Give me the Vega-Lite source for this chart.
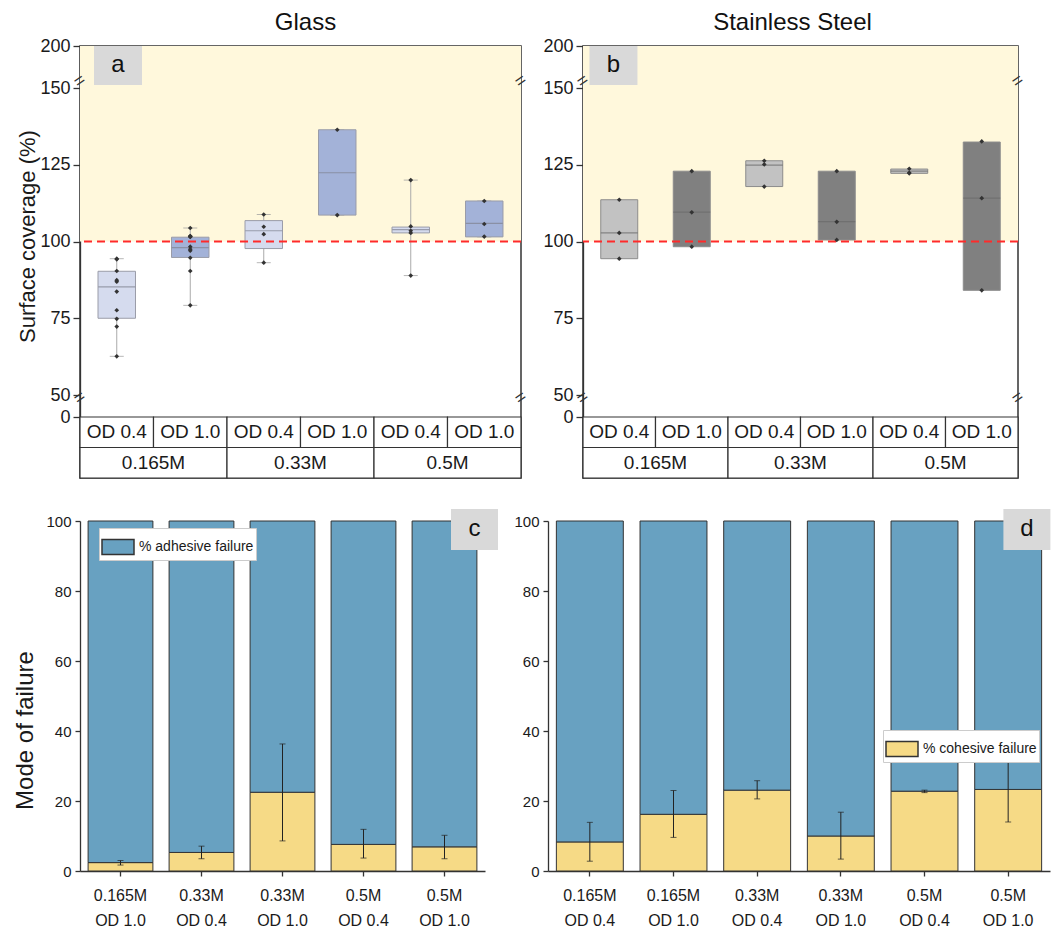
{
  "$schema": "https://vega.github.io/schema/vega-lite/v6.json",
  "padding": {"left": 13, "top": 10, "right": 0, "bottom": 0},
  "spacing": 28,
  "config": {
    "font": "Liberation Sans",
    "view": {"stroke": null},
    "axis": {"grid": false, "domainColor": "#333", "tickColor": "#333", "labelColor": "#1a1a1a", "titleColor": "#1a1a1a", "titleFontWeight": "normal", "domainWidth": 1.3, "tickWidth": 1.3},
    "legend": {"titleFontWeight": "normal"},
    "title": {"fontWeight": "normal", "color": "#111"}
  },
  "datasets": {
    "boxA": [
      {"key": "0.165M OD 0.4", "od": "OD 0.4", "lower": 62.6, "q1": 75.0, "median": 85.2, "q3": 90.3, "upper": 94.4},
      {"key": "0.165M OD 1.0", "od": "OD 1.0", "lower": 79.2, "q1": 94.8, "median": 98.0, "q3": 101.4, "upper": 104.4},
      {"key": "0.33M OD 0.4", "od": "OD 0.4", "lower": 93.1, "q1": 97.7, "median": 103.5, "q3": 106.8, "upper": 108.8},
      {"key": "0.33M OD 1.0", "od": "OD 1.0", "lower": 108.6, "q1": 108.6, "median": 122.4, "q3": 136.4, "upper": 136.4},
      {"key": "0.5M OD 0.4", "od": "OD 0.4", "lower": 88.9, "q1": 102.8, "median": 103.9, "q3": 104.7, "upper": 120.0},
      {"key": "0.5M OD 1.0", "od": "OD 1.0", "lower": 101.5, "q1": 101.5, "median": 105.9, "q3": 113.2, "upper": 113.2}
    ],
    "ptsA": [
      {"key": "0.165M OD 0.4", "v": 94.4}, {"key": "0.165M OD 0.4", "v": 94.2}, {"key": "0.165M OD 0.4", "v": 90.4}, {"key": "0.165M OD 0.4", "v": 87.4}, {"key": "0.165M OD 0.4", "v": 86.9},
      {"key": "0.165M OD 0.4", "v": 83.7}, {"key": "0.165M OD 0.4", "v": 77.6}, {"key": "0.165M OD 0.4", "v": 74.8}, {"key": "0.165M OD 0.4", "v": 72.3}, {"key": "0.165M OD 0.4", "v": 62.6},
      {"key": "0.165M OD 1.0", "v": 104.4}, {"key": "0.165M OD 1.0", "v": 101.8}, {"key": "0.165M OD 1.0", "v": 101.7}, {"key": "0.165M OD 1.0", "v": 101.6}, {"key": "0.165M OD 1.0", "v": 101.5},
      {"key": "0.165M OD 1.0", "v": 98.3}, {"key": "0.165M OD 1.0", "v": 97.5}, {"key": "0.165M OD 1.0", "v": 97.0}, {"key": "0.165M OD 1.0", "v": 94.7}, {"key": "0.165M OD 1.0", "v": 90.4}, {"key": "0.165M OD 1.0", "v": 79.2},
      {"key": "0.33M OD 0.4", "v": 108.8}, {"key": "0.33M OD 0.4", "v": 104.8}, {"key": "0.33M OD 0.4", "v": 102.4}, {"key": "0.33M OD 0.4", "v": 93.1},
      {"key": "0.33M OD 1.0", "v": 136.4}, {"key": "0.33M OD 1.0", "v": 108.6},
      {"key": "0.5M OD 0.4", "v": 120.0}, {"key": "0.5M OD 0.4", "v": 104.9}, {"key": "0.5M OD 0.4", "v": 103.5}, {"key": "0.5M OD 0.4", "v": 102.8}, {"key": "0.5M OD 0.4", "v": 88.9},
      {"key": "0.5M OD 1.0", "v": 113.2}, {"key": "0.5M OD 1.0", "v": 105.7}, {"key": "0.5M OD 1.0", "v": 101.6}
    ],
    "boxB": [
      {"key": "0.165M OD 0.4", "od": "OD 0.4", "lower": 94.4, "q1": 94.4, "median": 102.8, "q3": 113.6, "upper": 113.6},
      {"key": "0.165M OD 1.0", "od": "OD 1.0", "lower": 98.3, "q1": 98.3, "median": 109.6, "q3": 122.9, "upper": 122.9},
      {"key": "0.33M OD 0.4", "od": "OD 0.4", "lower": 117.9, "q1": 117.9, "median": 124.9, "q3": 126.3, "upper": 126.3},
      {"key": "0.33M OD 1.0", "od": "OD 1.0", "lower": 100.5, "q1": 100.5, "median": 106.5, "q3": 122.9, "upper": 122.9},
      {"key": "0.5M OD 0.4", "od": "OD 0.4", "lower": 122.2, "q1": 122.2, "median": 122.9, "q3": 123.6, "upper": 123.6},
      {"key": "0.5M OD 1.0", "od": "OD 1.0", "lower": 84.1, "q1": 84.1, "median": 114.1, "q3": 132.4, "upper": 132.4}
    ],
    "ptsB": [
      {"key": "0.165M OD 0.4", "v": 113.6}, {"key": "0.165M OD 0.4", "v": 102.8}, {"key": "0.165M OD 0.4", "v": 94.4},
      {"key": "0.165M OD 1.0", "v": 122.9}, {"key": "0.165M OD 1.0", "v": 109.5}, {"key": "0.165M OD 1.0", "v": 98.3},
      {"key": "0.33M OD 0.4", "v": 126.3}, {"key": "0.33M OD 0.4", "v": 125.1}, {"key": "0.33M OD 0.4", "v": 117.9},
      {"key": "0.33M OD 1.0", "v": 122.9}, {"key": "0.33M OD 1.0", "v": 106.4}, {"key": "0.33M OD 1.0", "v": 100.5},
      {"key": "0.5M OD 0.4", "v": 123.7}, {"key": "0.5M OD 0.4", "v": 122.4}, {"key": "0.5M OD 0.4", "v": 122.2},
      {"key": "0.5M OD 1.0", "v": 132.6}, {"key": "0.5M OD 1.0", "v": 114.1}, {"key": "0.5M OD 1.0", "v": 84.1}
    ],
    "tableOD": [
      {"key": "0.165M OD 0.4", "od": "OD 0.4"}, {"key": "0.165M OD 1.0", "od": "OD 1.0"},
      {"key": "0.33M OD 0.4", "od": "OD 0.4"}, {"key": "0.33M OD 1.0", "od": "OD 1.0"},
      {"key": "0.5M OD 0.4", "od": "OD 0.4"}, {"key": "0.5M OD 1.0", "od": "OD 1.0"}
    ],
    "tableConc": [{"conc": "0.165M"}, {"conc": "0.33M"}, {"conc": "0.5M"}],
    "barsC": [
      {"key": "0.165M|OD 1.0", "mode": "% cohesive failure", "pct": 2.4}, {"key": "0.165M|OD 1.0", "mode": "% adhesive failure", "pct": 97.6},
      {"key": "0.33M|OD 0.4", "mode": "% cohesive failure", "pct": 5.3}, {"key": "0.33M|OD 0.4", "mode": "% adhesive failure", "pct": 94.7},
      {"key": "0.33M|OD 1.0", "mode": "% cohesive failure", "pct": 22.5}, {"key": "0.33M|OD 1.0", "mode": "% adhesive failure", "pct": 77.5},
      {"key": "0.5M|OD 0.4", "mode": "% cohesive failure", "pct": 7.6}, {"key": "0.5M|OD 0.4", "mode": "% adhesive failure", "pct": 92.4},
      {"key": "0.5M|OD 1.0", "mode": "% cohesive failure", "pct": 6.9}, {"key": "0.5M|OD 1.0", "mode": "% adhesive failure", "pct": 93.1}
    ],
    "errC": [
      {"key": "0.165M|OD 1.0", "lo": 1.7, "hi": 3.0},
      {"key": "0.33M|OD 0.4", "lo": 3.5, "hi": 7.1},
      {"key": "0.33M|OD 1.0", "lo": 8.6, "hi": 36.3},
      {"key": "0.5M|OD 0.4", "lo": 3.7, "hi": 11.9},
      {"key": "0.5M|OD 1.0", "lo": 3.5, "hi": 10.2}
    ],
    "barsD": [
      {"key": "0.165M|OD 0.4", "mode": "% cohesive failure", "pct": 8.3}, {"key": "0.165M|OD 0.4", "mode": "% adhesive failure", "pct": 91.7},
      {"key": "0.165M|OD 1.0", "mode": "% cohesive failure", "pct": 16.2}, {"key": "0.165M|OD 1.0", "mode": "% adhesive failure", "pct": 83.8},
      {"key": "0.33M|OD 0.4", "mode": "% cohesive failure", "pct": 23.1}, {"key": "0.33M|OD 0.4", "mode": "% adhesive failure", "pct": 76.9},
      {"key": "0.33M|OD 1.0", "mode": "% cohesive failure", "pct": 10.0}, {"key": "0.33M|OD 1.0", "mode": "% adhesive failure", "pct": 90.0},
      {"key": "0.5M|OD 0.4", "mode": "% cohesive failure", "pct": 22.8}, {"key": "0.5M|OD 0.4", "mode": "% adhesive failure", "pct": 77.2},
      {"key": "0.5M|OD 1.0", "mode": "% cohesive failure", "pct": 23.3}, {"key": "0.5M|OD 1.0", "mode": "% adhesive failure", "pct": 76.7}
    ],
    "errD": [
      {"key": "0.165M|OD 0.4", "lo": 2.8, "hi": 13.9},
      {"key": "0.165M|OD 1.0", "lo": 9.6, "hi": 23.0},
      {"key": "0.33M|OD 0.4", "lo": 20.6, "hi": 25.8},
      {"key": "0.33M|OD 1.0", "lo": 3.4, "hi": 16.8},
      {"key": "0.5M|OD 0.4", "lo": 22.4, "hi": 23.1},
      {"key": "0.5M|OD 1.0", "lo": 14.0, "hi": 32.6}
    ]
  },
  "vconcat": [
    {
      "spacing": 10,
      "resolve": {"scale": {"color": "independent"}},
      "hconcat": [
        {
          "width": 441, "height": 432,
          "view": {"stroke": "#333", "strokeWidth": 1.5},
          "title": {"text": "Glass", "fontSize": 24, "offset": -22, "baseline": "bottom", "dx": 5},
          "resolve": {"scale": {"x": "independent"}},
          "layer": [
            {"layer": [
              {"data": {"values": [{}]}, "mark": {"type": "rect", "color": "#fff8dc"},
               "encoding": {
                 "y": {"datum": 100, "type": "quantitative",
                   "scale": {"domain": [-2, 0, 50, 150, 200], "range": [432, 371, 349, 42, 0], "zero": false, "nice": false},
                   "axis": {"values": [0, 50, 75, 100, 125, 150, 200], "title": "Surface coverage (%)", "titleFontSize": 22, "labelFontSize": 18, "tickSize": 7, "labelPadding": 3, "titlePadding": 0, "titleY": 190}},
                 "y2": {"datum": 200}}},
              {"data": {"name": "boxA"}, "mark": {"type": "rule", "color": "#aaaaaa", "strokeWidth": 1},
               "encoding": {
                 "x": {"field": "key", "type": "nominal", "axis": null, "scale": {"domain": ["0.165M OD 0.4", "0.165M OD 1.0", "0.33M OD 0.4", "0.33M OD 1.0", "0.5M OD 0.4", "0.5M OD 1.0"], "paddingInner": 0, "paddingOuter": 0}},
                 "y": {"field": "lower", "type": "quantitative"}, "y2": {"field": "upper"}}},
              {"data": {"name": "boxA"}, "mark": {"type": "tick", "size": 14, "thickness": 1, "color": "#999999"},
               "encoding": {"x": {"field": "key", "type": "nominal"}, "y": {"field": "lower", "type": "quantitative"}}},
              {"data": {"name": "boxA"}, "mark": {"type": "tick", "size": 14, "thickness": 1, "color": "#999999"},
               "encoding": {"x": {"field": "key", "type": "nominal"}, "y": {"field": "upper", "type": "quantitative"}}},
              {"data": {"name": "boxA"}, "mark": {"type": "bar", "width": {"band": 0.51}, "stroke": "#9a9ca8", "strokeWidth": 1},
               "encoding": {"x": {"field": "key", "type": "nominal"}, "y": {"field": "q1", "type": "quantitative"}, "y2": {"field": "q3"},
                 "color": {"field": "od", "type": "nominal", "legend": null, "scale": {"domain": ["OD 0.4", "OD 1.0"], "range": ["#d5dbee", "#a3b2d8"]}}}},
              {"data": {"name": "boxA"}, "mark": {"type": "tick", "size": 37, "thickness": 1.2, "color": "#7f8290"},
               "encoding": {"x": {"field": "key", "type": "nominal"}, "y": {"field": "median", "type": "quantitative"}}},
              {"data": {"values": [{}]}, "mark": {"type": "rule", "color": "#ff2a2a", "strokeDash": [8, 5], "strokeWidth": 2},
               "encoding": {"y": {"datum": 100, "type": "quantitative"}}},
              {"data": {"name": "ptsA"}, "mark": {"type": "point", "shape": "diamond", "filled": true, "size": 22, "color": "#333333", "opacity": 1},
               "encoding": {"x": {"field": "key", "type": "nominal"}, "y": {"field": "v", "type": "quantitative"}}},
              {"data": {"name": "tableOD"}, "mark": {"type": "rect", "fill": "white", "stroke": "#333", "strokeWidth": 1.2},
               "encoding": {"x": {"field": "key", "type": "nominal"}, "y": {"datum": -1, "type": "quantitative"}, "y2": {"datum": 0}}},
              {"data": {"name": "tableOD"}, "mark": {"type": "text", "fontSize": 19, "color": "#1a1a1a"},
               "encoding": {"x": {"field": "key", "type": "nominal"}, "y": {"datum": -0.5, "type": "quantitative"}, "text": {"field": "od"}}},
              {"data": {"values": [{}]}, "mark": {"type": "point", "shape": "M-1,-0.8125H1V0.8125H-1Z", "size": 2304, "filled": true, "color": "#d9d9d9", "opacity": 1, "strokeWidth": 0},
               "encoding": {"x": {"datum": "0.165M OD 0.4", "type": "nominal", "bandPosition": 0.517}, "y": {"datum": 176.8, "type": "quantitative"}}},
              {"data": {"values": [{}]}, "mark": {"type": "text", "text": "a", "fontSize": 24, "color": "#111"},
               "encoding": {"x": {"datum": "0.165M OD 0.4", "type": "nominal", "bandPosition": 0.517}, "y": {"datum": 176.8, "type": "quantitative"}}},
              {"data": {"values": [{}]}, "mark": {"type": "text", "text": "=", "fontSize": 18, "angle": -35, "color": "#333"},
               "encoding": {"x": {"datum": "0.165M OD 0.4", "type": "nominal", "bandPosition": 0}, "y": {"datum": 158, "type": "quantitative"}}},
              {"data": {"values": [{}]}, "mark": {"type": "text", "text": "=", "fontSize": 18, "angle": -35, "color": "#333"},
               "encoding": {"x": {"datum": "0.165M OD 0.4", "type": "nominal", "bandPosition": 0}, "y": {"datum": 43, "type": "quantitative"}}},
              {"data": {"values": [{}]}, "mark": {"type": "text", "text": "=", "fontSize": 18, "angle": -35, "color": "#333"},
               "encoding": {"x": {"datum": "0.5M OD 1.0", "type": "nominal", "bandPosition": 1}, "y": {"datum": 158, "type": "quantitative"}}},
              {"data": {"values": [{}]}, "mark": {"type": "text", "text": "=", "fontSize": 18, "angle": -35, "color": "#333"},
               "encoding": {"x": {"datum": "0.5M OD 1.0", "type": "nominal", "bandPosition": 1}, "y": {"datum": 43, "type": "quantitative"}}}
            ]},
            {"layer": [
              {"data": {"name": "tableConc"}, "mark": {"type": "rect", "fill": "white", "stroke": "#333", "strokeWidth": 1.2},
               "encoding": {"x": {"field": "conc", "type": "nominal", "axis": null, "scale": {"domain": ["0.165M", "0.33M", "0.5M"], "paddingInner": 0, "paddingOuter": 0}},
                 "y": {"datum": -2, "type": "quantitative"}, "y2": {"datum": -1}}},
              {"data": {"name": "tableConc"}, "mark": {"type": "text", "fontSize": 19, "color": "#1a1a1a"},
               "encoding": {"x": {"field": "conc", "type": "nominal", "axis": null}, "y": {"datum": -1.5, "type": "quantitative"}, "text": {"field": "conc"}}}
            ]}
          ]
        },
        {
          "width": 435, "height": 432,
          "view": {"stroke": "#333", "strokeWidth": 1.5},
          "title": {"text": "Stainless Steel", "fontSize": 24, "offset": -22, "baseline": "bottom", "dx": -8},
          "resolve": {"scale": {"x": "independent"}},
          "layer": [
            {"layer": [
              {"data": {"values": [{}]}, "mark": {"type": "rect", "color": "#fff8dc"},
               "encoding": {
                 "y": {"datum": 100, "type": "quantitative",
                   "scale": {"domain": [-2, 0, 50, 150, 200], "range": [432, 371, 349, 42, 0], "zero": false, "nice": false},
                   "axis": {"values": [0, 50, 75, 100, 125, 150, 200], "title": null, "labelFontSize": 18, "tickSize": 7, "labelPadding": 3}},
                 "y2": {"datum": 200}}},
              {"data": {"name": "boxB"}, "mark": {"type": "rule", "color": "#999999", "strokeWidth": 1},
               "encoding": {
                 "x": {"field": "key", "type": "nominal", "axis": null, "scale": {"domain": ["0.165M OD 0.4", "0.165M OD 1.0", "0.33M OD 0.4", "0.33M OD 1.0", "0.5M OD 0.4", "0.5M OD 1.0"], "paddingInner": 0, "paddingOuter": 0}},
                 "y": {"field": "lower", "type": "quantitative"}, "y2": {"field": "upper"}}},
              {"data": {"name": "boxB"}, "mark": {"type": "bar", "width": {"band": 0.51}, "stroke": "#8c8c8c", "strokeWidth": 1},
               "encoding": {"x": {"field": "key", "type": "nominal"}, "y": {"field": "q1", "type": "quantitative"}, "y2": {"field": "q3"},
                 "color": {"field": "od", "type": "nominal", "legend": null, "scale": {"domain": ["OD 0.4", "OD 1.0"], "range": ["#c2c2c2", "#808080"]}}}},
              {"data": {"name": "boxB"}, "mark": {"type": "tick", "size": 37, "thickness": 1.2, "color": "#6a6a6a"},
               "encoding": {"x": {"field": "key", "type": "nominal"}, "y": {"field": "median", "type": "quantitative"}}},
              {"data": {"values": [{}]}, "mark": {"type": "rule", "color": "#ff2a2a", "strokeDash": [8, 5], "strokeWidth": 2},
               "encoding": {"y": {"datum": 100, "type": "quantitative"}}},
              {"data": {"name": "ptsB"}, "mark": {"type": "point", "shape": "diamond", "filled": true, "size": 22, "color": "#333333", "opacity": 1},
               "encoding": {"x": {"field": "key", "type": "nominal"}, "y": {"field": "v", "type": "quantitative"}}},
              {"data": {"name": "tableOD"}, "mark": {"type": "rect", "fill": "white", "stroke": "#333", "strokeWidth": 1.2},
               "encoding": {"x": {"field": "key", "type": "nominal"}, "y": {"datum": -1, "type": "quantitative"}, "y2": {"datum": 0}}},
              {"data": {"name": "tableOD"}, "mark": {"type": "text", "fontSize": 19, "color": "#1a1a1a"},
               "encoding": {"x": {"field": "key", "type": "nominal"}, "y": {"datum": -0.5, "type": "quantitative"}, "text": {"field": "od"}}},
              {"data": {"values": [{}]}, "mark": {"type": "point", "shape": "M-1,-0.8125H1V0.8125H-1Z", "size": 2304, "filled": true, "color": "#d9d9d9", "opacity": 1, "strokeWidth": 0},
               "encoding": {"x": {"datum": "0.165M OD 0.4", "type": "nominal", "bandPosition": 0.42}, "y": {"datum": 176.8, "type": "quantitative"}}},
              {"data": {"values": [{}]}, "mark": {"type": "text", "text": "b", "fontSize": 24, "color": "#111"},
               "encoding": {"x": {"datum": "0.165M OD 0.4", "type": "nominal", "bandPosition": 0.42}, "y": {"datum": 176.8, "type": "quantitative"}}},
              {"data": {"values": [{}]}, "mark": {"type": "text", "text": "=", "fontSize": 18, "angle": -35, "color": "#333"},
               "encoding": {"x": {"datum": "0.165M OD 0.4", "type": "nominal", "bandPosition": 0}, "y": {"datum": 158, "type": "quantitative"}}},
              {"data": {"values": [{}]}, "mark": {"type": "text", "text": "=", "fontSize": 18, "angle": -35, "color": "#333"},
               "encoding": {"x": {"datum": "0.165M OD 0.4", "type": "nominal", "bandPosition": 0}, "y": {"datum": 43, "type": "quantitative"}}},
              {"data": {"values": [{}]}, "mark": {"type": "text", "text": "=", "fontSize": 18, "angle": -35, "color": "#333"},
               "encoding": {"x": {"datum": "0.5M OD 1.0", "type": "nominal", "bandPosition": 1}, "y": {"datum": 158, "type": "quantitative"}}},
              {"data": {"values": [{}]}, "mark": {"type": "text", "text": "=", "fontSize": 18, "angle": -35, "color": "#333"},
               "encoding": {"x": {"datum": "0.5M OD 1.0", "type": "nominal", "bandPosition": 1}, "y": {"datum": 43, "type": "quantitative"}}}
            ]},
            {"layer": [
              {"data": {"name": "tableConc"}, "mark": {"type": "rect", "fill": "white", "stroke": "#333", "strokeWidth": 1.2},
               "encoding": {"x": {"field": "conc", "type": "nominal", "axis": null, "scale": {"domain": ["0.165M", "0.33M", "0.5M"], "paddingInner": 0, "paddingOuter": 0}},
                 "y": {"datum": -2, "type": "quantitative"}, "y2": {"datum": -1}}},
              {"data": {"name": "tableConc"}, "mark": {"type": "text", "fontSize": 19, "color": "#1a1a1a"},
               "encoding": {"x": {"field": "conc", "type": "nominal", "axis": null}, "y": {"datum": -1.5, "type": "quantitative"}, "text": {"field": "conc"}}}
            ]}
          ]
        }
      ]
    },
    {
      "spacing": 14,
      "resolve": {"scale": {"color": "independent"}, "legend": {"color": "independent"}},
      "hconcat": [
        {
          "width": 405, "height": 350,
          "layer": [
            {"data": {"name": "barsC"}, "mark": {"type": "bar", "stroke": "#333", "strokeWidth": 1},
             "encoding": {
               "x": {"field": "key", "type": "nominal", "title": null,
                 "scale": {"domain": ["0.165M|OD 1.0", "0.33M|OD 0.4", "0.33M|OD 1.0", "0.5M|OD 0.4", "0.5M|OD 1.0"], "paddingInner": 0.2, "paddingOuter": 0.1},
                 "axis": {"labelAngle": 0, "labelExpr": "split(datum.label, '|')", "labelFont": "Liberation Sans", "labelFontSize": 16, "labelLineHeight": 25, "tickSize": 5, "labelPadding": 11}},
               "y": {"field": "pct", "type": "quantitative", "stack": "zero",
                 "scale": {"domain": [0, 100], "nice": false},
                 "axis": {"values": [0, 20, 40, 60, 80, 100], "title": "Mode of failure", "titleFontSize": 24, "labelFontSize": 15, "tickSize": 5, "labelPadding": 4, "titlePadding": 8, "titleY": 209}},
               "color": {"field": "mode", "type": "nominal",
                 "scale": {"domain": ["% adhesive failure", "% cohesive failure"], "range": ["#68a1c1", "#f6da86"]},
                 "legend": {"values": ["% adhesive failure"], "title": null, "orient": "none", "legendX": 19, "legendY": 7, "symbolType": "M-1,-0.47H1V0.47H-1Z", "symbolSize": 1024, "symbolStrokeColor": "#333", "symbolStrokeWidth": 1.5, "symbolOpacity": 1, "labelFontSize": 14, "labelColor": "#1a1a1a", "labelOffset": 4, "fillColor": "white", "strokeColor": "#cccccc", "padding": 2}},
               "order": {"field": "mode", "sort": "descending"}}},
            {"data": {"name": "errC"}, "mark": {"type": "rule", "color": "#222", "strokeWidth": 1},
             "encoding": {"x": {"field": "key", "type": "nominal"}, "y": {"field": "lo", "type": "quantitative"}, "y2": {"field": "hi"}}},
            {"data": {"name": "errC"}, "mark": {"type": "tick", "size": 6, "thickness": 1, "color": "#222"},
             "encoding": {"x": {"field": "key", "type": "nominal"}, "y": {"field": "lo", "type": "quantitative"}}},
            {"data": {"name": "errC"}, "mark": {"type": "tick", "size": 6, "thickness": 1, "color": "#222"},
             "encoding": {"x": {"field": "key", "type": "nominal"}, "y": {"field": "hi", "type": "quantitative"}}},
            {"data": {"values": [{}]}, "mark": {"type": "point", "shape": "M-1,-0.872H1V0.872H-1Z", "size": 2209, "filled": true, "color": "#d9d9d9", "opacity": 1, "strokeWidth": 0},
             "encoding": {"x": {"datum": "0.5M|OD 1.0", "type": "nominal", "bandPosition": 0.963}, "y": {"datum": 97.6, "type": "quantitative"}}},
            {"data": {"values": [{}]}, "mark": {"type": "text", "text": "c", "fontSize": 24, "color": "#111"},
             "encoding": {"x": {"datum": "0.5M|OD 1.0", "type": "nominal", "bandPosition": 0.963}, "y": {"datum": 97.6, "type": "quantitative"}}}
          ]
        },
        {
          "width": 502, "height": 350,
          "layer": [
            {"data": {"name": "barsD"}, "mark": {"type": "bar", "stroke": "#333", "strokeWidth": 1},
             "encoding": {
               "x": {"field": "key", "type": "nominal", "title": null,
                 "scale": {"domain": ["0.165M|OD 0.4", "0.165M|OD 1.0", "0.33M|OD 0.4", "0.33M|OD 1.0", "0.5M|OD 0.4", "0.5M|OD 1.0"], "paddingInner": 0.2, "paddingOuter": 0.1},
                 "axis": {"labelAngle": 0, "labelExpr": "split(datum.label, '|')", "labelFont": "Liberation Sans", "labelFontSize": 16, "labelLineHeight": 25, "tickSize": 5, "labelPadding": 11}},
               "y": {"field": "pct", "type": "quantitative", "stack": "zero",
                 "scale": {"domain": [0, 100], "nice": false},
                 "axis": {"values": [0, 20, 40, 60, 80, 100], "title": null, "labelFontSize": 15, "tickSize": 5, "labelPadding": 4}},
               "color": {"field": "mode", "type": "nominal",
                 "scale": {"domain": ["% adhesive failure", "% cohesive failure"], "range": ["#68a1c1", "#f6da86"]},
                 "legend": {"values": ["% cohesive failure"], "title": null, "orient": "none", "legendX": 335, "legendY": 209, "symbolType": "M-1,-0.47H1V0.47H-1Z", "symbolSize": 1024, "symbolStrokeColor": "#333", "symbolStrokeWidth": 1.5, "symbolOpacity": 1, "labelFontSize": 14, "labelColor": "#1a1a1a", "labelOffset": 4, "fillColor": "white", "strokeColor": "#cccccc", "padding": 2}},
               "order": {"field": "mode", "sort": "descending"}}},
            {"data": {"name": "errD"}, "mark": {"type": "rule", "color": "#222", "strokeWidth": 1},
             "encoding": {"x": {"field": "key", "type": "nominal"}, "y": {"field": "lo", "type": "quantitative"}, "y2": {"field": "hi"}}},
            {"data": {"name": "errD"}, "mark": {"type": "tick", "size": 6, "thickness": 1, "color": "#222"},
             "encoding": {"x": {"field": "key", "type": "nominal"}, "y": {"field": "lo", "type": "quantitative"}}},
            {"data": {"name": "errD"}, "mark": {"type": "tick", "size": 6, "thickness": 1, "color": "#222"},
             "encoding": {"x": {"field": "key", "type": "nominal"}, "y": {"field": "hi", "type": "quantitative"}}},
            {"data": {"values": [{}]}, "mark": {"type": "point", "shape": "M-1,-0.872H1V0.872H-1Z", "size": 2209, "filled": true, "color": "#d9d9d9", "opacity": 1, "strokeWidth": 0},
             "encoding": {"x": {"datum": "0.5M|OD 1.0", "type": "nominal", "bandPosition": 0.78}, "y": {"datum": 97.6, "type": "quantitative"}}},
            {"data": {"values": [{}]}, "mark": {"type": "text", "text": "d", "fontSize": 24, "color": "#111"},
             "encoding": {"x": {"datum": "0.5M|OD 1.0", "type": "nominal", "bandPosition": 0.78}, "y": {"datum": 97.6, "type": "quantitative"}}}
          ]
        }
      ]
    }
  ]
}
